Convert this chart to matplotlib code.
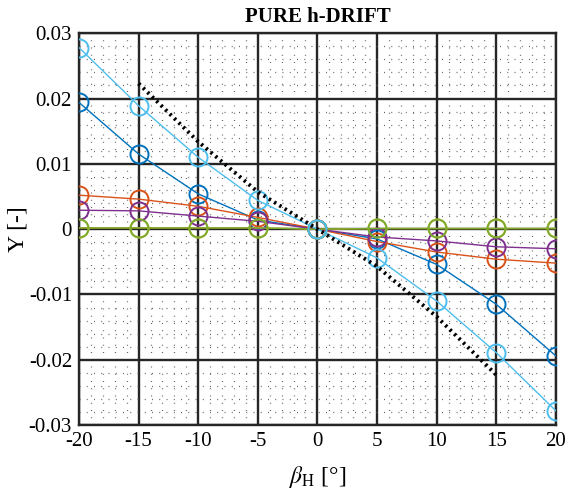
import matplotlib
matplotlib.use('Agg')
from matplotlib import pyplot as plt
from matplotlib.ticker import MultipleLocator
import numpy as np

beta = [-20, -15, -10, -5, 0, 5, 10, 15, 20]
y_blue = [0.0194, 0.0115, 0.0054, 0.0014, 0.0, -0.0015, -0.0054, -0.0115, -0.0194]
y_orange = [0.0052, 0.0046, 0.0035, 0.0018, 0.0, -0.0019, -0.0035, -0.0046, -0.0052]
y_yellow = [0.0002, 0.0002, 0.0002, 0.0002, 0.0, 0.0001, 0.0001, 0.0001, 0.0001]
y_purple = [0.0029, 0.0028, 0.0020, 0.0012, 0.0, -0.0012, -0.0018, -0.0027, -0.0030]
y_green = [0.0002, 0.0002, 0.0002, 0.0002, 0.0, 0.0001, 0.0001, 0.0001, 0.0001]
y_cyan = [0.0278, 0.0189, 0.0110, 0.0044, 0.0, -0.0044, -0.0110, -0.0189, -0.0278]
ref_beta = [-15, -10, -5, 0, 5, 10, 15]
ref_y = [0.0223, 0.0134, 0.0057, 0.0, -0.0057, -0.0134, -0.0223]

series = [(y_blue, '#0072BD'), (y_orange, '#D95319'), (y_yellow, '#EDB120'),
          (y_purple, '#7E2F8E'), (y_green, '#77AC30'), (y_cyan, '#4DBEEE')]

xticks = [-20, -15, -10, -5, 0, 5, 10, 15, 20]
yticks = [-0.03, -0.02, -0.01, 0, 0.01, 0.02, 0.03]
ytick_labels = ['-0.03', '-0.02', '-0.01', '0', '0.01', '0.02', '0.03']

plt.rcParams['font.family'] = ['Liberation Serif', 'DejaVu Serif']
plt.rcParams['mathtext.fontset'] = 'stix'
plt.rcParams['axes.unicode_minus'] = False

fig = plt.figure(figsize=(5.66, 4.96), dpi=100)
ax = fig.add_axes([0.1396, 0.143, 0.8424, 0.790])

for ys, c in series:
    ax.plot(beta, ys, '-o', color=c, lw=1.0, ms=13, mfc='none', mew=1.4, zorder=3)
ax.plot(ref_beta, ref_y, color='black', lw=2.8, ls=(0, (0.6, 1.0)), zorder=4)

ax.set_xlim(-20, 20)
ax.set_ylim(-0.03, 0.03)
ax.set_xticks(xticks)
ax.set_xticklabels([str(t) for t in xticks])
ax.set_yticks(yticks)
ax.set_yticklabels(ytick_labels)
ax.xaxis.set_minor_locator(MultipleLocator(1))
ax.yaxis.set_minor_locator(MultipleLocator(0.002))
ax.grid(which='major', color='#262626', lw=1.7, ls='-', zorder=1)
ax.grid(which='minor', color='#666666', lw=0.9, ls=(0, (0.8, 5)), zorder=1)
ax.set_axisbelow(True)
ax.tick_params(which='both', length=0, labelsize=15, pad=5)
for s in ax.spines.values():
    s.set_linewidth(1.7)
    s.set_color('#262626')

ax.set_title('PURE h-DRIFT', fontsize=15, fontweight='bold', pad=8)
ax.set_xlabel(r'$\beta_{\rm H}$ [°]', fontsize=17, labelpad=9)
ax.set_ylabel('Y [-]', fontsize=17, labelpad=0)

plt.savefig('out.png', dpi=100)
